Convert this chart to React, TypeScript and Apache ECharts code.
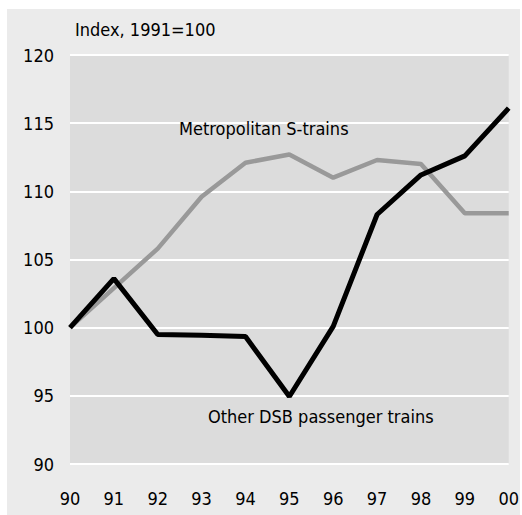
import React, { useEffect, useRef } from "react";
import * as echarts from "echarts";

const years = ["90", "91", "92", "93", "94", "95", "96", "97", "98", "99", "00"];
const metroSTrains = [100, 102.9, 105.8, 109.6, 112.1, 112.7, 111.0, 112.3, 112.0, 108.4, 108.4];
const otherDSB = [100, 103.6, 99.5, 99.45, 99.35, 94.95, 100.1, 108.3, 111.2, 112.6, 116.1];
const yTicks = { min: 90, max: 120, interval: 5 };

const FONT = "'DejaVu Sans Condensed', 'Liberation Sans Narrow', sans-serif";
const FS = 18;

export default function App() {
  const ref = useRef<HTMLDivElement>(null);
  useEffect(() => {
    if (!ref.current) return;
    const chart = echarts.init(ref.current, null, { renderer: "svg" });
    chart.setOption({
      animation: false,
      textStyle: { fontFamily: FONT },
      graphic: [
        {
          type: "rect",
          z: -10,
          silent: true,
          shape: { x: 7, y: 9, width: 513, height: 506 },
          style: { fill: "#ebebeb" },
        },
        {
          type: "text",
          left: 75,
          top: 20,
          style: { text: "Index, 1991=100", fontSize: FS, fill: "#000", fontFamily: FONT },
        },
        {
          type: "text",
          left: 179,
          top: 119,
          z: 10,
          style: { text: "Metropolitan S-trains", fontSize: FS, fill: "#000", fontFamily: FONT },
        },
        {
          type: "text",
          left: 208,
          top: 407,
          z: 10,
          style: { text: "Other DSB passenger trains", fontSize: FS, fill: "#000", fontFamily: FONT },
        },
      ],
      grid: {
        left: 70,
        right: 11,
        top: 55,
        bottom: 51,
        show: true,
        backgroundColor: "#dcdcdc",
        borderWidth: 0,
      },
      xAxis: {
        type: "category",
        data: years,
        boundaryGap: false,
        axisLine: { show: false },
        axisTick: { show: false },
        splitLine: { show: false },
        axisLabel: { fontSize: FS, color: "#000", margin: 25, fontFamily: FONT },
      },
      yAxis: {
        type: "value",
        min: yTicks.min,
        max: yTicks.max,
        interval: yTicks.interval,
        axisLine: { show: false },
        axisTick: { show: false },
        splitLine: { show: true, lineStyle: { color: "#ffffff", width: 2 } },
        axisLabel: { fontSize: FS, color: "#000", margin: 16, fontFamily: FONT },
      },
      series: [
        {
          name: "Metropolitan S-trains",
          type: "line",
          data: metroSTrains,
          symbol: "none",
          lineStyle: { color: "#999999", width: 4.5 },
          z: 2,
        },
        {
          name: "Other DSB passenger trains",
          type: "line",
          data: otherDSB,
          symbol: "none",
          lineStyle: { color: "#000000", width: 5 },
          z: 3,
        },
      ],
    });
    return () => chart.dispose();
  }, []);
  return (
    <div
      ref={ref}
      style={{ position: "absolute", left: 0, top: 0, width: 522, height: 515 }}
    />
  );
}
